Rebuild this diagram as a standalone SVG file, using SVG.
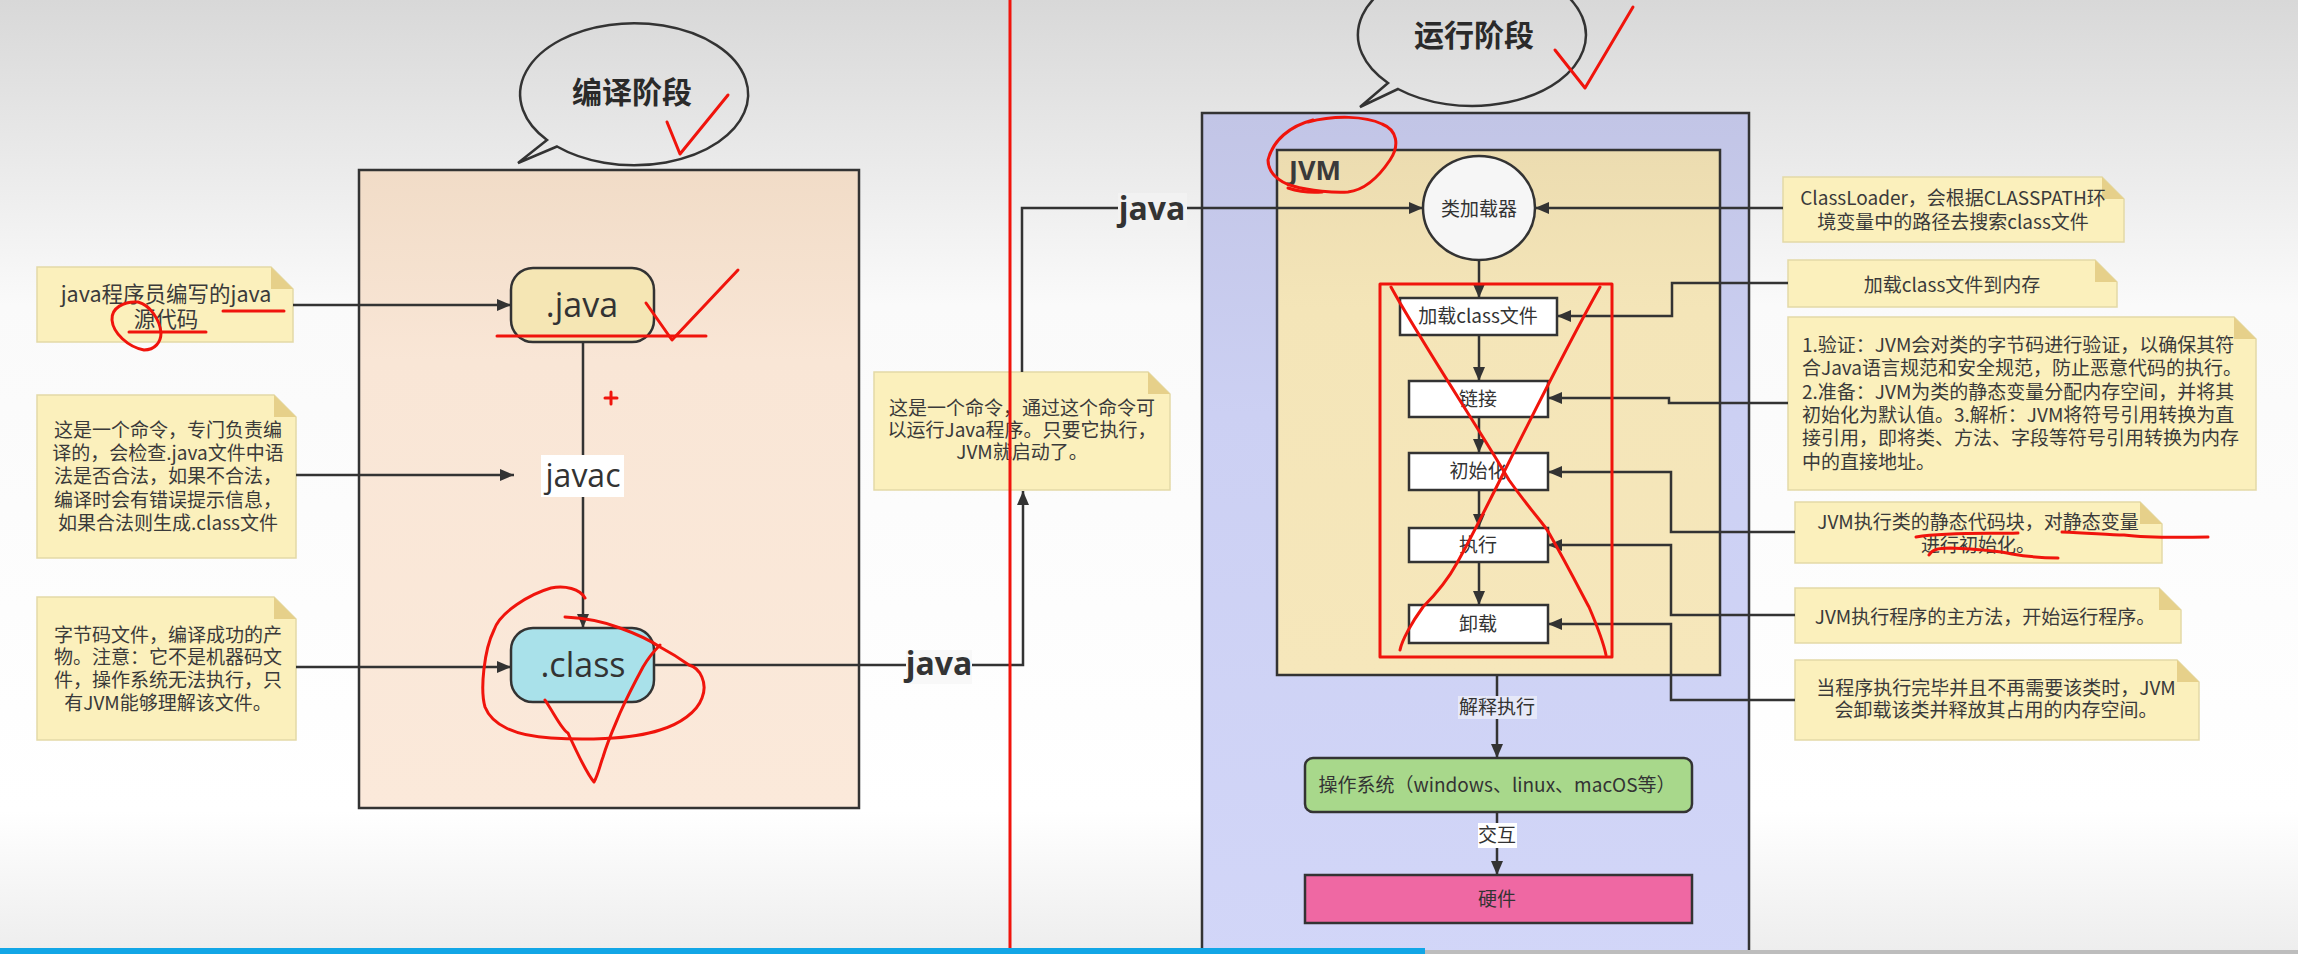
<svg xmlns="http://www.w3.org/2000/svg" width="2298" height="954" viewBox="0 0 2298 954">
<defs>
<linearGradient id="bg" x1="0" y1="0" x2="0" y2="1">
<stop offset="0" stop-color="#d8d8d8"/>
<stop offset="0.32" stop-color="#fafafa"/>
<stop offset="0.85" stop-color="#ffffff"/>
<stop offset="1" stop-color="#ededed"/>
</linearGradient>
<linearGradient id="peach" x1="0" y1="0" x2="0" y2="1">
<stop offset="0" stop-color="#f1dcc7"/>
<stop offset="0.3" stop-color="#f9e6d6"/>
<stop offset="1" stop-color="#fbe9da"/>
</linearGradient>
<linearGradient id="lav" x1="0" y1="0" x2="0" y2="1">
<stop offset="0" stop-color="#c2c5e6"/>
<stop offset="0.35" stop-color="#ccd0f3"/>
<stop offset="1" stop-color="#d2d6f8"/>
</linearGradient>
<linearGradient id="tan" x1="0" y1="0" x2="0" y2="1">
<stop offset="0" stop-color="#ecdcb0"/>
<stop offset="0.3" stop-color="#f4e5b8"/>
<stop offset="1" stop-color="#f6e7bb"/>
</linearGradient>
<marker id="arr" viewBox="0 0 14 12" refX="14" refY="6" markerWidth="14" markerHeight="12" markerUnits="userSpaceOnUse" orient="auto">
<path d="M0,0 L14,6 L0,12 Z" fill="#333"/>
</marker>
<style>
.note{fill:#fbf0bc;stroke:#e3d9a6;stroke-width:1.5}
.fold{fill:#e6d08a}
.nt{font-family:"Noto Sans CJK SC","Noto Sans",sans-serif;font-size:19px;fill:#3a3a3a;text-anchor:middle}
.nt1{font-family:"Noto Sans CJK SC","Noto Sans",sans-serif;font-size:21.5px;fill:#3a3a3a;text-anchor:middle}
.ntl{font-family:"Noto Sans CJK SC","Noto Sans",sans-serif;font-size:19px;fill:#3a3a3a}
.box{stroke:#333;stroke-width:2.5}
.lbl{font-family:"Noto Sans CJK SC","Noto Sans",sans-serif;font-size:19px;fill:#333;text-anchor:middle}
.big{font-family:"Open Sans","Liberation Sans",sans-serif;font-size:34px;fill:#333;text-anchor:middle}
.mid{font-family:"Open Sans","Liberation Sans",sans-serif;font-size:32px;fill:#333;text-anchor:middle}
.jl{font-family:"Open Sans","Liberation Sans",sans-serif;font-size:32px;font-weight:bold;fill:#333;text-anchor:middle}
.title{font-family:"Noto Sans CJK SC","Noto Sans",sans-serif;font-size:30px;font-weight:bold;fill:#2a2a2a;text-anchor:middle}
.con{fill:none;stroke:#333;stroke-width:2.5}
.red{fill:none;stroke:#f0140c;stroke-width:3;stroke-linecap:round;stroke-linejoin:round}
.bub{fill:none;stroke:#333;stroke-width:2.5}
</style>
</defs>

<rect x="0" y="0" width="2298" height="954" fill="url(#bg)"/>

<!-- compile stage container -->
<g id="compile-stage">
<rect x="359" y="170" width="500" height="638" fill="url(#peach)" class="box"/>
</g>
<g id="bubble-compile">
<path class="bub" d="M547,140 L518,163 L557,146.5 A114,71 0 1 0 547,140 Z"/>
<text class="title" x="632" y="103">编译阶段</text>
</g>

<!-- runtime stage container -->
<g id="runtime-stage">
<rect x="1202" y="113" width="547" height="860" fill="url(#lav)" class="box"/>
</g>
<g id="bubble-runtime">
<path class="bub" d="M1388,83 L1360,107 L1398,89 A114,71 0 1 0 1388,83 Z"/>
<text class="title" x="1474" y="46">运行阶段</text>
</g>
<g id="jvm">
<rect x="1277" y="150" width="443" height="525" fill="url(#tan)" class="box"/>
<text x="1289" y="180" font-family="Open Sans, Liberation Sans, sans-serif" font-size="27" font-weight="bold" fill="#3a3a3a">JVM</text>
</g>

<!-- notes left -->
<g id="note-source">
<path class="note" d="M37,267 H271 L293,289 V342 H37 Z"/>
<path class="fold" d="M271,267 V289 H293 Z"/>
<text class="nt1" x="166" y="302">java程序员编写的java</text>
<text class="nt1" x="166" y="327">源代码</text>
</g>
<g id="note-javac">
<path class="note" d="M37,395 H274 L296,417 V558 H37 Z"/>
<path class="fold" d="M274,395 V417 H296 Z"/>
<text class="nt" x="168" y="437">这是一个命令，专门负责编</text>
<text class="nt" x="168" y="460">译的，会检查.java文件中语</text>
<text class="nt" x="168" y="483">法是否合法，如果不合法，</text>
<text class="nt" x="168" y="507">编译时会有错误提示信息，</text>
<text class="nt" x="168" y="530">如果合法则生成.class文件</text>
</g>
<g id="note-bytecode">
<path class="note" d="M37,597 H274 L296,619 V740 H37 Z"/>
<path class="fold" d="M274,597 V619 H296 Z"/>
<text class="nt" x="168" y="642">字节码文件，编译成功的产</text>
<text class="nt" x="168" y="664">物。注意：它不是机器码文</text>
<text class="nt" x="168" y="687">件，操作系统无法执行，只</text>
<text class="nt" x="168" y="710">有JVM能够理解该文件。</text>
</g>
<g id="note-java-cmd">
<path class="note" d="M874,372 H1148 L1170,394 V490 H874 Z"/>
<path class="fold" d="M1148,372 V394 H1170 Z"/>
<text class="nt" x="1022" y="415">这是一个命令，通过这个命令可</text>
<text class="nt" x="1022" y="437">以运行Java程序。只要它执行，</text>
<text class="nt" x="1022" y="459">JVM就启动了。</text>
</g>

<!-- notes right -->
<g id="note-classloader">
<path class="note" d="M1783,177 H2102 L2124,199 V242 H1783 Z"/>
<path class="fold" d="M2102,177 V199 H2124 Z"/>
<text class="nt" x="1953" y="205">ClassLoader，会根据CLASSPATH环</text>
<text class="nt" x="1953" y="229">境变量中的路径去搜索class文件</text>
</g>
<g id="note-load">
<path class="note" d="M1788,260 H2095 L2117,282 V307 H1788 Z"/>
<path class="fold" d="M2095,260 V282 H2117 Z"/>
<text class="nt" x="1952" y="292">加载class文件到内存</text>
</g>
<g id="note-link">
<path class="note" d="M1788,317 H2234 L2256,339 V490 H1788 Z"/>
<path class="fold" d="M2234,317 V339 H2256 Z"/>
<text class="ntl" x="1802" y="352">1.验证：JVM会对类的字节码进行验证，以确保其符</text>
<text class="ntl" x="1802" y="375">合Java语言规范和安全规范，防止恶意代码的执行。</text>
<text class="ntl" x="1802" y="399">2.准备：JVM为类的静态变量分配内存空间，并将其</text>
<text class="ntl" x="1802" y="422">初始化为默认值。3.解析：JVM将符号引用转换为直</text>
<text class="ntl" x="1802" y="445">接引用，即将类、方法、字段等符号引用转换为内存</text>
<text class="ntl" x="1802" y="469">中的直接地址。</text>
</g>
<g id="note-init">
<path class="note" d="M1795,502 H2140 L2162,524 V563 H1795 Z"/>
<path class="fold" d="M2140,502 V524 H2162 Z"/>
<text class="nt" x="1978" y="529">JVM执行类的静态代码块，对静态变量</text>
<text class="nt" x="1978" y="552">进行初始化。</text>
</g>
<g id="note-exec">
<path class="note" d="M1795,588 H2159 L2181,610 V643 H1795 Z"/>
<path class="fold" d="M2159,588 V610 H2181 Z"/>
<text class="nt" x="1985" y="624">JVM执行程序的主方法，开始运行程序。</text>
</g>
<g id="note-unload">
<path class="note" d="M1795,660 H2177 L2199,682 V740 H1795 Z"/>
<path class="fold" d="M2177,660 V682 H2199 Z"/>
<text class="nt" x="1996" y="695">当程序执行完毕并且不再需要该类时，JVM</text>
<text class="nt" x="1996" y="717">会卸载该类并释放其占用的内存空间。</text>
</g>

<!-- connectors -->
<g id="connectors">
<path class="con" d="M293,305 H511" marker-end="url(#arr)"/>
<path class="con" d="M296,475 H514" marker-end="url(#arr)"/>
<path class="con" d="M296,667 H511" marker-end="url(#arr)"/>
<path class="con" d="M583,342 V628" marker-end="url(#arr)"/>
<path class="con" d="M654,665 H1023 V491" marker-end="url(#arr)"/>
<path class="con" d="M1022,372 V208 H1423" marker-end="url(#arr)"/>
<path class="con" d="M1783,208 H1535" marker-end="url(#arr)"/>
<path class="con" d="M1479,260 V298" marker-end="url(#arr)"/>
<path class="con" d="M1479,335 V381" marker-end="url(#arr)"/>
<path class="con" d="M1479,417 V453" marker-end="url(#arr)"/>
<path class="con" d="M1479,490 V528" marker-end="url(#arr)"/>
<path class="con" d="M1479,562 V605" marker-end="url(#arr)"/>
<path class="con" d="M1788,283 H1672 V316 H1557" marker-end="url(#arr)"/>
<path class="con" d="M1788,403 H1669 V398 H1548" marker-end="url(#arr)"/>
<path class="con" d="M1795,532 H1671 V472 H1548" marker-end="url(#arr)"/>
<path class="con" d="M1795,615 H1671 V545 H1548" marker-end="url(#arr)"/>
<path class="con" d="M1795,700 H1671 V624 H1548" marker-end="url(#arr)"/>
<path class="con" d="M1497,675 V758" marker-end="url(#arr)"/>
<path class="con" d="M1497,812 V875" marker-end="url(#arr)"/>
<rect x="541" y="455" width="83" height="42" fill="#ffffff"/>
<text class="mid" x="583" y="487">javac</text>
<rect x="906" y="650" width="66" height="34" fill="#f8f8f8"/>
<text class="jl" x="939" y="675">java</text>
<rect x="1118" y="193" width="69" height="37" fill="#f2f2f2"/>
<text class="jl" x="1152" y="220">java</text>
<rect x="1458" y="696" width="79" height="23" fill="#e6e8f8"/>
<text class="lbl" x="1497" y="714">解释执行</text>
<rect x="1478" y="823" width="39" height="25" fill="#ffffff"/>
<text class="lbl" x="1497" y="842">交互</text>
</g>

<!-- nodes -->
<g id="node-java">
<rect x="511" y="268" width="143" height="74" rx="22" fill="#f5e6b4" class="box"/>
<text class="big" x="582" y="317">.java</text>
</g>
<g id="node-class">
<rect x="511" y="628" width="143" height="74" rx="22" fill="#a9e1ea" class="box"/>
<text class="big" x="583" y="677">.class</text>
</g>
<g id="node-classloader">
<ellipse cx="1479" cy="208" rx="56" ry="52" fill="#f6f6f6" class="box"/>
<text class="lbl" x="1479" y="216">类加载器</text>
</g>
<g id="node-load">
<rect x="1400" y="298" width="157" height="37" fill="#ffffff" class="box"/>
<text class="lbl" x="1478" y="323">加载class文件</text>
</g>
<g id="node-link">
<rect x="1409" y="381" width="139" height="36" fill="#ffffff" class="box"/>
<text class="lbl" x="1478" y="406">链接</text>
</g>
<g id="node-init">
<rect x="1409" y="453" width="139" height="37" fill="#ffffff" class="box"/>
<text class="lbl" x="1478" y="478">初始化</text>
</g>
<g id="node-exec">
<rect x="1409" y="528" width="139" height="34" fill="#ffffff" class="box"/>
<text class="lbl" x="1478" y="552">执行</text>
</g>
<g id="node-unload">
<rect x="1409" y="605" width="139" height="38" fill="#ffffff" class="box"/>
<text class="lbl" x="1478" y="631">卸载</text>
</g>
<g id="node-os">
<rect x="1305" y="758" width="387" height="54" rx="8" fill="#a8d88b" class="box"/>
<text class="lbl" x="1497" y="792">操作系统（windows、linux、macOS等）</text>
</g>
<g id="node-hardware">
<rect x="1305" y="875" width="387" height="48" fill="#ef68a3" class="box"/>
<text class="lbl" x="1497" y="906">硬件</text>
</g>

<!-- hand-drawn red annotations -->
<g id="annotations">
<path class="red" d="M1010,0 V954"/>
<path class="red" d="M667,122 L680,154 L728,95"/>
<path class="red" d="M1555,50 L1585,88 L1633,7"/>
<path class="red" d="M646,303 L672,340 L738,270"/>
<path class="red" d="M497,336 H706"/>
<path class="red" d="M223,311 H284"/>
<path class="red" d="M129,332 H206"/>
<path class="red" d="M144,350 C128,347 113,333 112,320 C111,308 124,301 138,302 C150,305 160,320 161,333 C161,342 155,350 144,350"/>
<path class="red" d="M605,398 H617 M611,392 V404"/>
<path class="red" d="M585,598 C580,589 565,585 551,588 C530,594 500,612 494,630 C484,650 480,690 485,707 C492,725 515,736 551,738 C580,740 630,740 660,730 C680,724 697,712 702,698 C708,683 700,668 689,665 C675,655 660,647 660,647 C645,637 620,628 620,628 C605,622 585,618 565,617"/>
<path class="red" d="M545,700 C555,715 562,730 568,733 C578,755 588,775 594,782 C598,775 600,765 603,757 C608,740 615,725 620,713 C628,695 636,680 643,667 C650,655 655,650 660,645"/>
<path class="red" d="M1313,120 C1290,126 1273,140 1268,160 C1268,172 1278,182 1293,186 C1310,191 1335,193 1348,192 C1365,190 1378,178 1390,160 C1400,145 1397,130 1382,124 C1365,116 1335,115 1308,122"/>
<path class="red" d="M1288,188 C1300,192 1310,193 1322,192"/>
<rect class="red" x="1380" y="284" width="232" height="373"/>
<path class="red" d="M1391,287 C1420,340 1480,430 1509,480 C1530,510 1545,525 1549,533 C1570,570 1585,600 1589,607 C1598,628 1604,645 1606,655"/>
<path class="red" d="M1600,287 C1570,340 1530,420 1500,480 C1485,510 1470,540 1457,563 C1445,585 1430,600 1423,607 C1412,622 1402,640 1400,650"/>
<path class="red" d="M1916,537 C1950,532 1990,534 2018,533"/>
<path class="red" d="M2062,532 C2090,533 2110,535 2124,535 C2140,537 2160,538 2208,537"/>
<path class="red" d="M1929,555 C1932,550 1937,548 1950,548 C1975,549 1995,550 2012,554 C2030,557 2045,558 2058,558"/>
</g>

<!-- player progress bar -->
<rect x="0" y="948" width="1425" height="6" fill="#12a6e6"/>
<rect x="1425" y="950" width="873" height="4" fill="#bdbdbd"/>
</svg>
